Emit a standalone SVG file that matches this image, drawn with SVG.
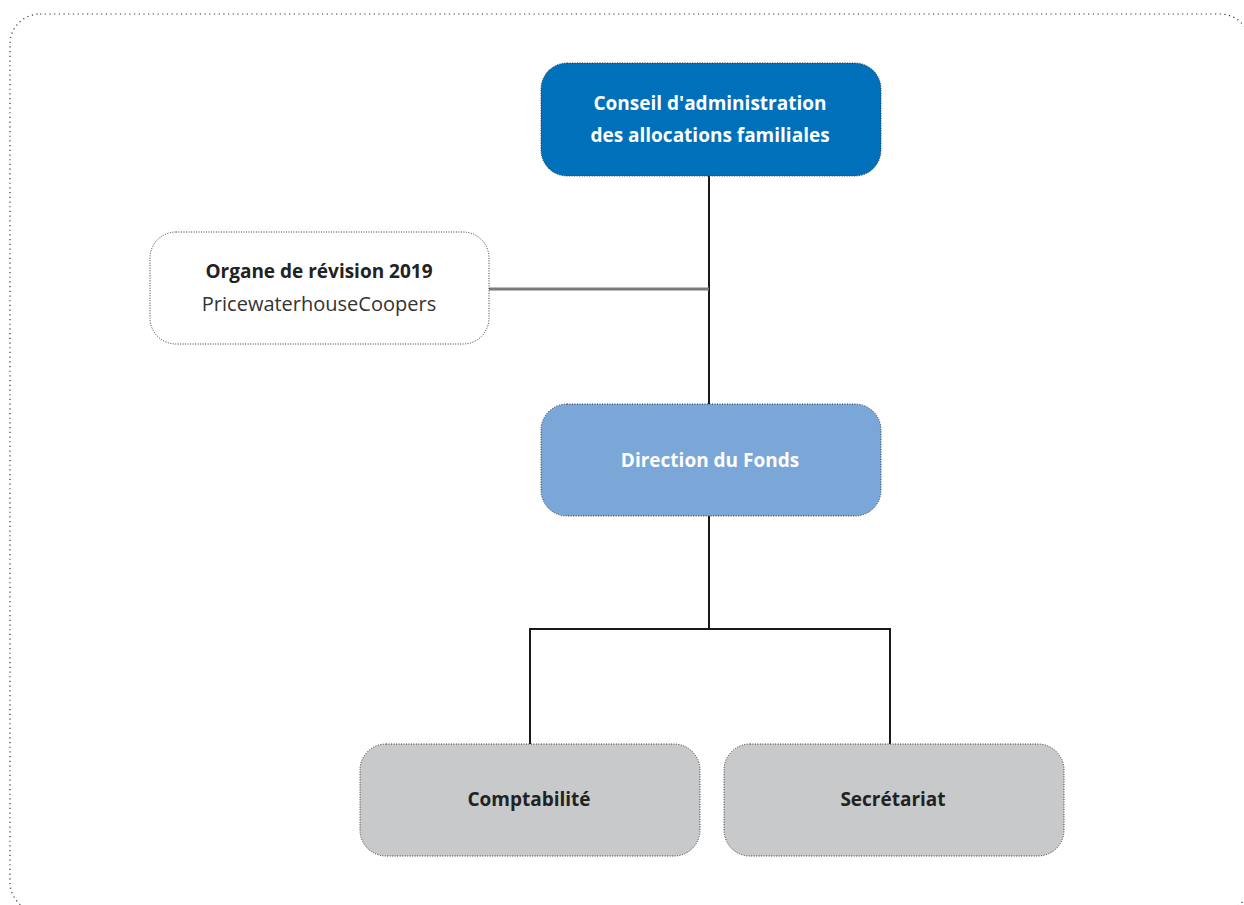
<svg xmlns="http://www.w3.org/2000/svg" width="1244" height="905" viewBox="0 0 1244 905">
<style>
.box{stroke:#333;stroke-width:1;stroke-dasharray:1 1.5}
.frame{fill:none;stroke:#333;stroke-width:1.2;stroke-dasharray:1.2 3.5}
.t{font-family:"Open Sans","Noto Sans","Liberation Sans",sans-serif;font-size:19px;text-anchor:middle}
.b{font-weight:bold}
.w{fill:#fff}
.d{fill:#222}
.ln{fill:none;stroke:#1a1a1a;stroke-width:2}
</style>
<rect width="1244" height="905" fill="#fff"/>
<rect class="frame" x="10" y="14" width="1240" height="898" rx="30"/>
<g id="connectors">
<path class="ln" d="M709 176V404M709 516V629M530 744V629H890V744"/>
<line x1="489" y1="289" x2="709" y2="289" stroke="#7a7a7a" stroke-width="3"/>
</g>
<g id="conseil">
<rect class="box" x="541" y="63" width="340" height="113" rx="26" fill="#0070ba"/>
<text class="t b w" x="710" y="110">Conseil d'administration</text>
<text class="t b w" x="710" y="142">des allocations familiales</text>
</g>
<g id="organe">
<rect class="box" x="150" y="232" width="339" height="112" rx="26" fill="#fff"/>
<text class="t b d" x="319" y="278">Organe de révision 2019</text>
<text class="t" x="319" y="311" style="fill:#333;font-size:20px">PricewaterhouseCoopers</text>
</g>
<g id="direction">
<rect class="box" x="541" y="404" width="340" height="112" rx="26" fill="#7ba6d8"/>
<text class="t b w" x="710" y="467">Direction du Fonds</text>
</g>
<g id="comptabilite">
<rect class="box" x="360" y="744" width="340" height="112" rx="26" fill="#c8c9cb"/>
<text class="t b d" x="529" y="806">Comptabilité</text>
</g>
<g id="secretariat">
<rect class="box" x="724" y="744" width="340" height="112" rx="26" fill="#c8c9cb"/>
<text class="t b d" x="893" y="806">Secrétariat</text>
</g>
</svg>
